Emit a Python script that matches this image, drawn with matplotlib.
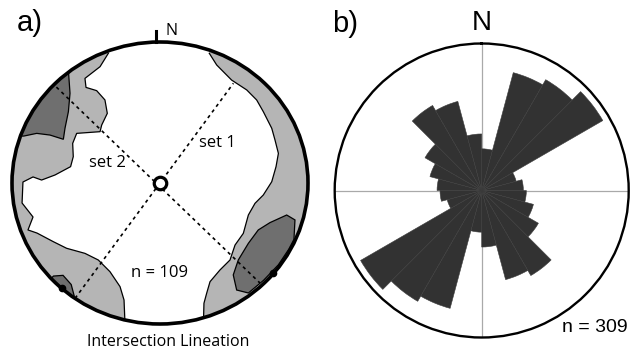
import numpy as np
import matplotlib
matplotlib.use("Agg")
import matplotlib.pyplot as plt
from matplotlib.patches import Polygon, Circle

plt.rcParams['font.family'] = ['Liberation Sans', 'DejaVu Sans']

# ---------------- data: panel b (rose diagram, bidirectional, 15 deg bins) ----------
rose_bin_start = [0, 15, 30, 45, 60, 75, 90, 105, 120, 135, 150, 165]
rose_counts = [14, 41, 43, 47, 12, 14, 15, 18, 22, 33, 31, 19]
rose_bin_width = 15
rose_rmax = 49.4
rose_n_text = "n = 309"

# ---------------- data: panel a (stereonet, unit-disk coordinates) -------------------
light_left_boundary = [(-0.349, 0.92), (-0.405, 0.825), (-0.507, 0.742), (-0.50, 0.678),
                       (-0.428, 0.655), (-0.372, 0.589), (-0.356, 0.494), (-0.394, 0.411),
                       (-0.405, 0.364), (-0.563, 0.352), (-0.59, 0.281), (-0.586, 0.187),
                       (-0.604, 0.116), (-0.709, 0.057), (-0.80, 0.021), (-0.858, 0.043),
                       (-0.926, 0.007), (-0.932, -0.142), (-0.858, -0.241), (-0.892, -0.333),
                       (-0.831, -0.355), (-0.721, -0.416), (-0.631, -0.463), (-0.507, -0.499),
                       (-0.417, -0.546), (-0.338, -0.629), (-0.27, -0.735), (-0.243, -0.83),
                       (-0.236, -1.01)]
light_right_boundary = [(0.333, 0.92), (0.383, 0.837), (0.484, 0.73), (0.586, 0.66),
                        (0.653, 0.589), (0.698, 0.506), (0.755, 0.388), (0.777, 0.305),
                        (0.80, 0.21), (0.784, 0.116), (0.755, 0.009), (0.698, -0.085),
                        (0.642, -0.144), (0.597, -0.227), (0.563, -0.357), (0.507, -0.44),
                        (0.473, -0.546), (0.405, -0.617), (0.338, -0.70), (0.315, -0.783),
                        (0.297, -0.853), (0.293, -1.01)]
dark_upper_left = [(-0.619, 0.80), (-0.608, 0.636), (-0.619, 0.506), (-0.642, 0.388),
                   (-0.653, 0.31), (-0.743, 0.34), (-0.833, 0.352), (-0.92, 0.333),
                   (-1.1, 0.33), (-1.1, 1.0), (-0.62, 1.0)]
dark_lower_right = [(0.664, -0.333), (0.743, -0.281), (0.856, -0.227), (0.912, -0.262),
                    (0.905, -0.40), (0.87, -0.47), (0.80, -0.58), (0.70, -0.69),
                    (0.597, -0.78), (0.518, -0.759), (0.495, -0.652), (0.529, -0.546),
                    (0.597, -0.428)]
dark_lower_left = [(-0.72, -0.66), (-0.655, -0.655), (-0.60, -0.72), (-0.58, -0.80),
                   (-0.62, -0.85), (-0.80, -0.75)]
max_dots = [(-0.664, -0.747), (0.766, -0.636)]
set1_line = [(-0.574, -0.818), (0.496, 0.707)]
set2_line = [(-0.70, 0.68), (0.676, -0.71)]
labels_a = {"set 1": (0.387, 0.286), "set 2": (-0.356, 0.139), "n = 109": (-0.005, -0.64)}

LIGHT = '#b5b5b5'
DARK = '#6f6f6f'
HUMANIST = ['Open Sans', 'DejaVu Sans']

fig = plt.figure(figsize=(6.3, 3.52), dpi=100)

# ---------------- panel a ----------------
W, H = 630.0, 352.0
cx, cy, rx, ry = 160.0, 183.0, 148.0, 141.0
ax1 = fig.add_axes([(cx - rx) / W, (H - cy - ry) / H, 2 * rx / W, 2 * ry / H])
ax1.set_xlim(-1, 1)
ax1.set_ylim(-1, 1)
ax1.axis('off')

clip = Circle((0, 0), 1.0, transform=ax1.transData)

def closed_left(b):
    return b + [(b[-1][0], -1.3), (-1.3, -1.3), (-1.3, 1.3), (b[0][0], 1.3)]

def closed_right(b):
    return b + [(b[-1][0], -1.3), (1.3, -1.3), (1.3, 1.3), (b[0][0], 1.3)]

for poly in (closed_left(light_left_boundary), closed_right(light_right_boundary)):
    p = Polygon(poly, closed=True, facecolor=LIGHT, edgecolor='none', zorder=1)
    ax1.add_patch(p)
    p.set_clip_path(clip)
for b in (light_left_boundary, light_right_boundary):
    xs, ys = zip(*b)
    ln, = ax1.plot(xs, ys, color='black', lw=0.9, zorder=3)
    ln.set_clip_path(clip)

for poly in (dark_upper_left, dark_lower_right, dark_lower_left):
    p = Polygon(poly, closed=True, facecolor=DARK, edgecolor='black', lw=0.9, zorder=2)
    ax1.add_patch(p)
    p.set_clip_path(clip)

for line in (set1_line, set2_line):
    xs, ys = zip(*line)
    ax1.plot(xs, ys, color='black', lw=1.2, ls=(0, (2.0, 2.2)), zorder=4)

dx, dy = zip(*max_dots)
ax1.plot(dx, dy, 'o', color='black', ms=4.5, zorder=5)

ax1.add_patch(Circle((0, 0), 1.0, facecolor='none', edgecolor='black', lw=2.6, zorder=6, clip_on=False))
ax1.plot([0], [0], 'o', ms=9, mfc='white', mec='black', mew=2.3, zorder=7)
ax1.plot([-0.027, -0.027], [1.0, 1.08], color='black', lw=2.2, clip_on=False, zorder=6)
ax1.text(0.034, 1.075, "N", fontsize=11.5, ha='left', va='center', clip_on=False,
         family=HUMANIST)

for txt, (x, y) in labels_a.items():
    ax1.text(x, y, txt, fontsize=12, ha='center', va='center', zorder=8, family=HUMANIST)

fig.text(168 / W, 1 - 342 / H, "Intersection Lineation", fontsize=11.5,
         ha='center', va='center', family=HUMANIST)
fig.text(17 / W, 1 - 23 / H, "a)", fontsize=21, ha='left', va='center')

# ---------------- panel b ----------------
rcx, rcy, rr = 481.7, 190.5, 147.0
ax2 = fig.add_axes([(rcx - rr) / W, (H - rcy - rr) / H, 2 * rr / W, 2 * rr / H],
                   projection='polar')
starts = np.array(rose_bin_start, dtype=float)
counts = np.array(rose_counts, dtype=float)
theta = np.deg2rad(np.concatenate([starts, starts + 180]) + rose_bin_width / 2)
heights = np.concatenate([counts, counts])
for a in (0, 90, 180, 270):
    ax2.plot([np.deg2rad(a)] * 2, [0, rose_rmax], color='#a9a9a9', lw=0.9, zorder=1)
ax2.bar(theta, heights, width=np.deg2rad(rose_bin_width), bottom=0,
        color='#323232', edgecolor='#3c3c3c', linewidth=0.4, zorder=3)
ax2.set_theta_zero_location('N')
ax2.set_theta_direction(-1)
ax2.set_ylim(0, rose_rmax)
ax2.set_xticks([])
ax2.set_yticks([])
ax2.grid(False)
ax2.spines['polar'].set_linewidth(1.7)

fig.text(481.7 / W, 1 - 23 / H, "N", fontsize=20, ha='center', va='center')
fig.text(345 / W, 1 - 24 / H, "b)", fontsize=21, ha='center', va='center')
fig.text(628 / W, 1 - 327 / H, rose_n_text, fontsize=14, ha='right', va='center')

fig.savefig("out.png", dpi=100)
